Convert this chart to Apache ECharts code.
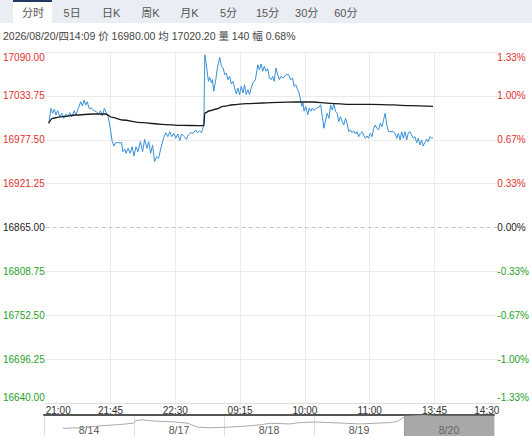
<!DOCTYPE html>
<html><head><meta charset="utf-8">
<script src="https://cdn.jsdelivr.net/npm/echarts@6/dist/echarts.min.js"></script>
<style>html,body{margin:0;padding:0;background:#fff}#c{width:532px;height:436px}</style>
</head><body><div id="c"></div>
<script>
// ---- data ----
const tabs = ['分时','5日','日K','周K','月K','5分','15分','30分','60分'];
const infoText = '2026/08/20/四14:09 价 16980.00 均 17020.20 量 140 幅 0.68%';
const timeLabels = ['21:00','21:45','22:30','09:15','10:00','11:00','13:45','14:30'];
const priceLabels = ['16640.00','16696.25','16752.50','16808.75','16865.00','16921.25','16977.50','17033.75','17090.00'];
const pctLabels = ['-1.33%','-1.00%','-0.67%','-0.33%','0.00%','0.33%','0.67%','1.00%','1.33%'];
const baseClose = 16865;
const priceMin = 16640, priceMax = 17090, priceStep = 56.25;

const minutes = [
2.1,3.7,4.8,6.0,7.1,8.3,9.9,11.2,12.6,14.0,
15.4,16.7,18.1,19.8,20.9,22.7,24.3,25.5,26.7,27.8,
28.9,30.1,31.9,33.6,35.2,36.5,38.1,39.3,40.7,42.0,
43.4,45.0,46.2,47.4,48.5,50.8,52.6,53.6,54.9,55.8,
57.2,58.6,60.0,61.3,62.7,64.1,65.7,67.3,68.7,70.3,
71.5,72.9,74.2,75.6,77.0,78.4,80.2,81.8,83.4,84.8,
86.2,87.5,88.9,90.3,91.7,93.1,94.4,96.3,97.7,99.0,
100.8,102.5,104.1,105.5,106.8,108.2,109.1,109.8,110.5,
111.2,112.1,113.0,113.9,115.1,115.8,116.7,118.1,119.2,120.8,
122.0,123.2,124.3,125.4,126.6,127.7,128.9,130.1,131.2,132.3,
133.5,134.6,135.8,137.0,138.1,139.2,140.4,141.5,142.7,143.9,
145.6,147.3,148.4,149.6,150.7,151.8,153.0,154.2,155.3,156.5,
157.6,158.7,159.9,161.1,162.2,163.4,164.9,166.8,168.7,170.2,
171.4,172.5,173.7,174.9,176.0,177.8,178.7,179.4,180.6,182.0,
182.9,184.0,185.2,186.3,188.0,189.8,190.9,
192.1,193.2,194.4,195.5,196.7,197.8,199.0,200.1,201.3,202.4,
203.5,204.7,205.9,207.0,208.2,209.3,210.4,211.6,212.8,213.9,
215.1,216.2,217.3,218.5,219.7,220.8,221.9,223.1,224.2,225.4,
226.6,227.7,228.8,230.0,231.1,232.3,233.5,234.6,235.7,236.9,
238.0,239.7,241.5,242.6,243.8,244.9,246.1,247.2,248.4,249.5,
250.7,251.8,253.0,254.1,255.2,256.4,257.6,258.7,259.9,261.0,
262.1,263.3,264.5,265.6,266.8,267.9,269.0
];
const prices = [
16998.6,17017.8,17011.4,17016.5,17009.2,17014.7,17007.1,17011.4,17005.0,17010.5,
17007.1,17012.2,17007.1,17014.7,17009.2,17017.8,17026.3,17020.8,17028.5,17022.1,
17026.3,17017.8,17017.8,17014.7,17013.5,17010.5,17014.7,17008.0,17017.8,17012.2,
17007.1,16990.0,16975.0,16969.5,16973.7,16973.7,16973.7,16962.2,16965.3,16960.1,
16966.5,16960.1,16968.6,16956.7,16968.6,16962.2,16975.0,16962.2,16978.1,16966.5,
16975.0,16960.1,16970.8,16949.4,16955.8,16953.7,16968.6,16979.4,16986.5,16981.4,
16987.8,16981.4,16985.8,16979.4,16984.9,16976.3,16984.9,16981.4,16978.1,16983.6,
16986.5,16985.8,16990.0,16986.5,16989.1,16986.5,16992.2,16996.0,17086.5,
17078.1,17065.3,17052.4,17057.6,17050.3,17054.5,17039.6,17054.5,17069.5,17083.2,
17071.7,17069.5,17060.9,17063.1,17054.5,17058.8,17049.0,17052.4,17043.8,17036.2,
17043.8,17035.3,17046.0,17037.4,17048.1,17035.3,17041.7,17035.3,17043.8,17050.3,
17054.5,17073.7,17067.3,17074.6,17065.3,17071.7,17065.3,17068.6,17056.7,17054.5,
17058.8,17052.4,17069.5,17060.9,17054.5,17058.8,17056.7,17060.9,17060.9,17054.5,
17056.7,17046.0,17048.1,17041.7,17037.4,17020.4,17024.6,17014.0,17020.4,17009.6,
17018.2,17014.0,17018.2,17014.7,17018.2,17019.1,17022.4,
17007.1,16992.2,17002.8,17011.4,17005.0,17022.1,17015.6,17023.3,17013.5,17011.4,
17000.6,17007.1,17000.6,16996.4,17005.0,16998.6,16987.8,16990.0,16986.5,16989.1,
16984.9,16987.8,16981.4,16985.8,16987.8,16983.6,16979.4,16982.3,16979.4,16985.8,
16981.4,16992.2,16996.4,16992.2,16990.0,16998.6,16994.2,17002.8,17011.4,16996.4,
16987.8,16987.8,16987.8,16985.8,16979.4,16985.8,16977.2,16987.8,16979.4,16987.8,
16977.2,16986.5,16987.8,16983.6,16979.4,16981.4,16973.7,16979.4,16970.8,16977.2,
16969.5,16973.7,16978.1,16975.0,16981.4,16979.4,16980.0
];
const avgMinutes = [2.1,4.8,11.7,20.9,32.4,41.6,46.2,53.1,66.9,80.6,94.4,108.2,109.8,110.5,113.9,118.6,123.2,130.1,139.2,150.7,162.2,173.7,185.2,197.8,211.6,225.4,241.5,253.0,269.0];
const avgPrices = [16998.6,17005.0,17007.1,17009.2,17010.5,17010.5,17006.3,17002.8,16999.4,16997.3,16996.0,16995.5,16995.5,17011.8,17014.7,17016.9,17020.4,17022.4,17023.7,17024.6,17025.5,17025.9,17025.9,17024.2,17022.9,17022.9,17022.1,17021.2,17020.2];

const days = ['8/14','8/17','8/18','8/19','8/20'];
const miniPos = [0.21,0.40,0.62,0.84,0.99,1.02,1.09,1.18,1.29,1.46,1.60,1.70,1.84,2.07,2.29,2.42,2.51,2.73,2.84,3.01,3.18,3.34,3.51,3.68,3.84,3.93,3.99,4.07,4.23,4.40,4.62,4.79,4.87];
const miniPrices = [16818,16836,16891,16927,16964,17036,17064,17036,17018,17000,16964,16855,16836,16855,16891,16927,16964,16945,16982,17000,16982,16964,16945,16964,16982,17018,17127,17164,17182,17145,17127,17109,17091];
const selectedDay = 4;

// ---- styles ----
const RED = '#e0302d', GREEN = '#1f9e2a', ZERO = '#222';
const FONT = '"Liberation Sans", Arial, "Noto Sans CJK SC", sans-serif';
function colorFor(v) {
  v = parseFloat(v);
  if (v > baseClose + 0.01) return RED;
  if (v < baseClose - 0.01) return GREEN;
  return ZERO;
}
const zip = (a, b) => a.map((x, i) => [x, b[i]]);

const splitColors = priceLabels.map((_, i) => i === 4 ? 'rgba(0,0,0,0)' : '#ebebeb');

const graphics = [
  { type: 'rect', shape: { x: 0, y: 0, width: 532, height: 23 }, style: { fill: '#eaeef4' }, silent: true },
  { type: 'rect', shape: { x: 13, y: 0, width: 39, height: 23 }, style: { fill: '#ffffff' }, silent: true },
  { type: 'rect', shape: { x: 13, y: 0, width: 39, height: 2 }, style: { fill: '#1f3a5f' }, silent: true }
];
tabs.forEach((t, i) => {
  graphics.push({ type: 'text', x: 33 + i * 39.1, y: 13, silent: true,
    style: { text: t, fill: '#555', font: '11px ' + FONT, textAlign: 'center', textVerticalAlign: 'middle' } });
});
graphics.push({ type: 'text', x: 3, y: 36, silent: true,
  style: { text: infoText, fill: '#444', font: '10.5px ' + FONT, textAlign: 'left', textVerticalAlign: 'middle' } });

const chart = echarts.init(document.getElementById('c'), null, { renderer: 'svg' });
chart.setOption({
  animation: false,
  backgroundColor: '#fff',
  textStyle: { fontFamily: FONT },
  graphic: graphics,
  grid: [
    { left: 43, right: 32, top: 52, bottom: 33 },
    { left: 44, right: 38, top: 415, bottom: -12 }
  ],
  xAxis: [
    { type: 'value', gridIndex: 0, min: 0, max: 315, interval: 45,
      axisLine: { show: true, lineStyle: { color: '#dddddd' } },
      axisTick: { show: false },
      splitLine: { show: true, showMinLine: false, showMaxLine: false, lineStyle: { color: '#ebebeb' } },
      axisLabel: { margin: 2, color: '#333', fontSize: 10, fontFamily: FONT, showMinLabel: true, showMaxLabel: true,
        formatter: (v, i) => {
          const t = timeLabels[Math.round(v / 45)];
          if (i === 0) return '{l|' + t + '}';
          if (Math.round(v / 45) === timeLabels.length - 1) return '{r|' + t + '}';
          return t;
        },
        rich: { l: { padding: [0, 0, 0, 25], color: '#333', fontSize: 10, fontFamily: FONT },
                r: { padding: [0, 25, 0, 0], color: '#333', fontSize: 10, fontFamily: FONT } } } },
    { type: 'category', gridIndex: 1, data: days, position: 'top', boundaryGap: true,
      axisLine: { show: true, lineStyle: { color: '#555', width: 2 } },
      axisTick: { show: false },
      splitLine: { show: true, lineStyle: { color: '#dddddd' } },
      axisLabel: { inside: true, margin: 10, color: '#555', fontSize: 10.5, fontFamily: FONT } },
    { type: 'value', gridIndex: 1, min: 0, max: 5, show: false }
  ],
  yAxis: [
    { type: 'value', gridIndex: 0, min: priceMin, max: priceMax, interval: priceStep,
      axisLine: { show: false }, axisTick: { show: false },
      splitLine: { show: true, lineStyle: { color: splitColors } },
      axisLabel: { margin: 1, fontSize: 10, fontFamily: FONT, color: (v) => colorFor(v),
        formatter: (v, i) => {
          if (i === 0) return '{b|' + priceLabels[0] + '}';
          if (i === priceLabels.length - 1) return '{t|' + priceLabels[i] + '}';
          return priceLabels[i];
        },
        rich: { t: { padding: [10, 0, 0, 0], color: RED, fontSize: 10, fontFamily: FONT },
                b: { padding: [0, 0, 12, 0], color: GREEN, fontSize: 10, fontFamily: FONT } } } },
    { type: 'value', gridIndex: 0, position: 'right', min: priceMin, max: priceMax, interval: priceStep,
      axisLine: { show: false }, axisTick: { show: false }, splitLine: { show: false },
      axisLabel: { margin: -2, align: 'left', fontSize: 10, fontFamily: FONT, color: (v) => colorFor(v),
        formatter: (v, i) => {
          if (i === 0) return '{b|' + pctLabels[0] + '}';
          if (i === pctLabels.length - 1) return '{t|' + pctLabels[i] + '}';
          return pctLabels[i];
        },
        rich: { t: { padding: [10, 0, 0, 0], color: RED, fontSize: 10, fontFamily: FONT },
                b: { padding: [0, 0, 12, 0], color: GREEN, fontSize: 10, fontFamily: FONT } } } },
    { type: 'value', gridIndex: 1, min: 16600, max: 17200, show: false }
  ],
  series: [
    { name: '价', type: 'line', xAxisIndex: 0, yAxisIndex: 0, data: zip(minutes, prices),
      showSymbol: false, symbol: 'none', lineStyle: { color: '#3a8fd6', width: 1 },
      markLine: { silent: true, symbol: 'none', label: { show: false },
        lineStyle: { type: [4, 3], color: '#c4c4c4', width: 1 }, data: [{ yAxis: baseClose }] } },
    { name: '均', type: 'line', xAxisIndex: 0, yAxisIndex: 0, data: zip(avgMinutes, avgPrices),
      showSymbol: false, symbol: 'none', smooth: 0.35, smoothMonotone: 'x',
      lineStyle: { color: '#1b1b1b', width: 1.3 } },
    { name: 'mini', type: 'line', xAxisIndex: 2, yAxisIndex: 2, data: zip(miniPos, miniPrices),
      showSymbol: false, symbol: 'none', lineStyle: { color: '#aaaaaa', width: 1 },
      markArea: { silent: true, itemStyle: { color: 'rgba(110,110,110,0.6)' },
        data: [[{ xAxis: selectedDay }, { xAxis: selectedDay + 1 }]] } }
  ]
});
</script></body></html>
